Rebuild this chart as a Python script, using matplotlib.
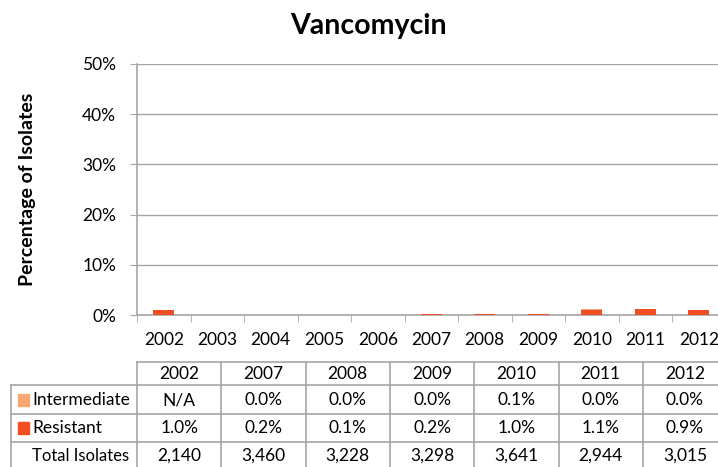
import matplotlib
matplotlib.use("Agg")
import matplotlib.pyplot as plt
import numpy as np

plt.rcParams['font.family'] = ['Lato', 'DejaVu Sans']

years = ['2002', '2003', '2004', '2005', '2006', '2007', '2008', '2009', '2010', '2011', '2012']
resistant = [1.0, 0, 0, 0, 0, 0.2, 0.1, 0.2, 1.0, 1.1, 0.9]
intermediate = [0, 0, 0, 0, 0, 0.0, 0.0, 0.0, 0.1, 0.0, 0.0]

table_years = ['2002', '2007', '2008', '2009', '2010', '2011', '2012']
table_intermediate = ['N/A', '0.0%', '0.0%', '0.0%', '0.1%', '0.0%', '0.0%']
table_resistant = ['1.0%', '0.2%', '0.1%', '0.2%', '1.0%', '1.1%', '0.9%']
table_total = ['2,140', '3,460', '3,228', '3,298', '3,641', '2,944', '3,015']
yticks = [0, 10, 20, 30, 40, 50]

C_RES = '#F04E23'
C_INT = '#F9A874'
GRID = '#A6A6A6'

W, H = 718, 467
fig = plt.figure(figsize=(W / 100, H / 100), dpi=100)

# plot area in pixels: left 137, right ~725, top 64, bottom 315
L, R, T, B = 137, 725.5, 64, 315
ax = fig.add_axes([L / W, 1 - B / H, (R - L) / W, (B - T) / H])
x = np.arange(len(years))
ax.bar(x, resistant, width=0.4, color=C_RES, zorder=3)
ax.bar(x, intermediate, width=0.4, bottom=resistant, color=C_INT, zorder=3)
ax.set_xlim(-0.5, len(years) - 0.5)
ax.set_ylim(0, 50)
ax.set_yticks(yticks)
ax.set_yticklabels([f'{v}%' for v in yticks], fontsize=12.5)
ax.yaxis.grid(True, color=GRID, linewidth=1)
ax.set_axisbelow(True)
for s in ['top', 'right']:
    ax.spines[s].set_visible(False)
for s in ['left', 'bottom']:
    ax.spines[s].set_color(GRID)
    ax.spines[s].set_linewidth(1.2)
ax.tick_params(axis='y', length=5, color=GRID, pad=10)
ax.set_xticks(x)
ax.set_xticklabels(years, fontsize=12.5)
ax.set_xticks(np.arange(-0.5, len(years), 1), minor=True)
ax.tick_params(axis='x', which='major', length=0, pad=12)
ax.tick_params(axis='x', which='minor', length=5, color=GRID)
ax.set_ylabel('Percentage of Isolates', fontsize=14, fontweight='bold')
ax.yaxis.set_label_coords(-101 / (R - L), 0.5)

fig.text(368 / W, 1 - 26 / H, 'Vancomycin', ha='center', va='center', fontsize=20.5, fontweight='bold')

# table overlay in pixel coords
tx = fig.add_axes([0, 0, 1, 1])
tx.set_xlim(0, W)
tx.set_ylim(H, 0)
tx.axis('off')
col_l = 137
col_w = 84.3
ncol = len(table_years)
rows_y = [362, 385, 414, 442, 470]
lab_l = 11
lc = GRID
lw = 1.2
tx.plot([col_l, col_l + ncol * col_w], [rows_y[0]] * 2, color=lc, lw=lw)
for yy in rows_y[1:]:
    tx.plot([lab_l, col_l + ncol * col_w], [yy] * 2, color=lc, lw=lw)
tx.plot([col_l, col_l], [rows_y[0], rows_y[-1]], color=lc, lw=lw)
tx.plot([lab_l, lab_l], [rows_y[1], rows_y[-1]], color=lc, lw=lw)
for i in range(1, ncol + 1):
    xx = col_l + i * col_w
    tx.plot([xx, xx], [rows_y[0], rows_y[-1]], color=lc, lw=lw)

row_data = [table_years, table_intermediate, table_resistant, table_total]
row_cy = [374, 400, 428, 456]
for r, vals in enumerate(row_data):
    for i, v in enumerate(vals):
        tx.text(col_l + (i + 0.5) * col_w, row_cy[r], v, ha='center', va='center', fontsize=12.5)

labels = ['Intermediate', 'Resistant', 'Total Isolates']
colors = [C_INT, C_RES, None]
sizes = [12.5, 12.5, 12]
for k, (lab, c) in enumerate(zip(labels, colors)):
    cy = row_cy[k + 1]
    if c is not None:
        tx.add_patch(plt.Rectangle((18, cy - 6), 11, 12, color=c))
    tx.text(32, cy, lab, ha='left', va='center', fontsize=sizes[k])

fig.savefig('out.png', dpi=100)
